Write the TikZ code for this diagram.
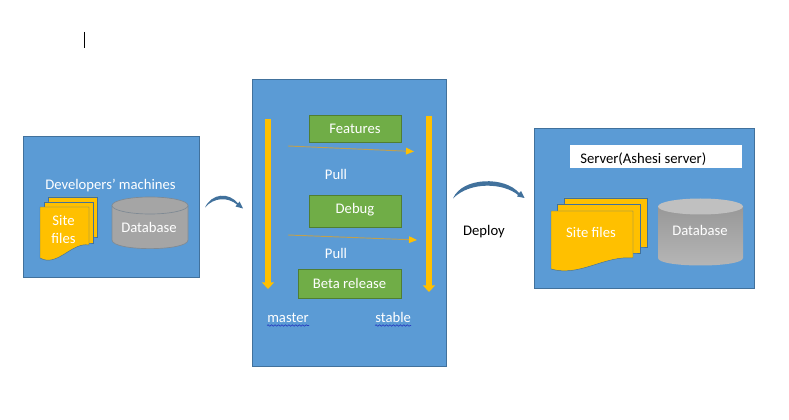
\documentclass[tikz,border=0pt]{standalone}
\usepackage{fontspec}
\setmainfont{Carlito}
\usetikzlibrary{arrows.meta,decorations.pathmorphing}
\definecolor{bluefill}{HTML}{5B9BD5}
\definecolor{blueline}{HTML}{41719C}
\definecolor{greenfill}{HTML}{70AD47}
\definecolor{greenline}{HTML}{507E32}
\definecolor{amber}{HTML}{FFC000}
\definecolor{amberline}{HTML}{BFA050}
\definecolor{grayfill}{HTML}{A5A5A5}
\definecolor{grayline}{HTML}{7F8A94}
\definecolor{squig}{HTML}{2A3FC0}
\newcommand\pxbox[6]{\node[#6,minimum width={(#4-#2)*0.75pt},minimum height={(#5-#3)*0.75pt},inner sep=0pt,outer sep=0pt,anchor=north west] (#1) at (#2,#3) {};}
\newcommand\sheet[5]{% x1 ytop x2 yleftbottom yrightbottom
  \filldraw[sheetstyle] (#1,#2) -- (#3,#2) -- (#3,#5)
    .. controls ({#3-(#3-#1)*0.35},{#5-(#4-#5)*0.25}) and ({#1+(#3-#1)*0.35},{#4+(#4-#5)*0.75}) .. (#1,#4) -- cycle;}
\tikzset{
  panel/.style={draw=blueline,fill=bluefill,line width=0.5pt},
  greenbox/.style={draw=greenline,fill=greenfill,line width=0.5pt},
  whitebox/.style={fill=white},
  sheetstyle/.style={fill=amber,draw=blueline,line width=0.35pt},
  txt/.style={font=\fontsize{11pt}{13pt}\selectfont,text=white,inner sep=0pt},
  txtblack/.style={txt,text=black},
  branch/.style={draw=amber,line width=4.4pt,-{Triangle[length=5pt,width=9pt]}},
  mergearrow/.style={draw=amberline,line width=0.7pt,-{Triangle[length=6pt,width=5pt,color=amber]}},
  flow/.style={fill=blueline},
  squiggle/.style={draw=squig,line width=0.5pt,decorate,decoration={snake,amplitude=0.55pt,segment length=2.6pt}},
}
\begin{document}
\begin{tikzpicture}[x=0.75pt,y=-0.75pt]
\useasboundingbox (0,0) rectangle (789,420);
\fill[white] (0,0) rectangle (789,420);
\coordinate (caretTop) at (84.5,32);
\coordinate (caretBot) at (84.5,48);
\draw[black,line width=0.8pt] (caretTop) -- (caretBot);
% panels
\pxbox{devpanel}{23.5}{136.5}{199.5}{277}{panel}
\pxbox{midpanel}{252.5}{79.5}{446.5}{366}{panel}
\pxbox{srvpanel}{534.5}{128.5}{754.5}{288}{panel}
% left panel
\node[txt] (devlabel) at (110.5,186) {Developers’ machines};
\sheet{48}{197}{97}{237}{237}
\sheet{44}{202}{93}{243}{243}
\sheet{40}{207}{89}{258}{245}
\node[txt,anchor=base] (sitefilesA) at (63.5,226) {Site};
\node[txt,anchor=base] (sitefilesC) at (63.5,244) {files};
\filldraw[fill=grayfill,draw=grayline,line width=0.5pt] (112,205.5) -- (112,240) .. controls (112,251.5) and (188,251.5) .. (188,240) -- (188,205.5);
\filldraw[fill=grayfill,draw=grayline,line width=0.5pt] (150,205.5) ellipse [x radius=38*0.75pt,y radius=8.5*0.75pt];
\node[txt] (dbA) at (149,227.5) {Database};
% arrow between left and middle
\coordinate (a1s) at (205,207.5);
\coordinate (a1e) at (241,207);
\fill[flow] (a1s) .. controls (212,193) and (229,192) .. (238,203.5) -- (239.5,201.5) -- (243,208.5) -- (235.5,206.5) -- (237,204.5) .. controls (228,197) and (214,197) .. (a1s) -- cycle;
% middle panel
\coordinate (ms) at (268,119); \coordinate (me) at (268,289);
\coordinate (ss) at (429,116); \coordinate (se) at (429,292);
\draw[branch] (ms) -- (me);
\draw[branch] (ss) -- (se);
\pxbox{features}{309.5}{115.5}{401.5}{142}{greenbox}
\pxbox{debug}{309.5}{195.5}{401.5}{227}{greenbox}
\pxbox{beta}{298.5}{269.5}{401.5}{298}{greenbox}
\node[txt] (featT) at (355,129) {Features};
\node[txt] (debT) at (355,210) {Debug};
\node[txt] (betT) at (349.5,283) {Beta release};
\coordinate (p1s) at (288,146); \coordinate (p1e) at (414,151.5);
\coordinate (p2s) at (288,235); \coordinate (p2e) at (417,240);
\draw[mergearrow] (p1s) -- (p1e);
\draw[mergearrow] (p2s) -- (p2e);
\node[txt] (pullA) at (336,174.5) {Pull};
\node[txt] (pullB) at (336,253.5) {Pull};
\node[txt,anchor=base west] (master) at (267,323) {master};
\node[txt,anchor=base west] (stable) at (375,323) {stable};
\coordinate (sq1a) at (267,325.5); \coordinate (sq1b) at (309,325.5);
\coordinate (sq2a) at (375,325.5); \coordinate (sq2b) at (411,325.5);
\draw[squiggle] (sq1a) -- (sq1b);
\draw[squiggle] (sq2a) -- (sq2b);
% deploy arrow
\coordinate (a2s) at (453,198.5);
\coordinate (a2e) at (523,197);
\fill[flow] (a2s) .. controls (462,177) and (505,176) .. (519,193) -- (521,191) -- (524.5,198) -- (517,196.5) -- (518,195) .. controls (504,183) and (470,181) .. (a2s) -- cycle;
\node[txtblack] (deploy) at (484,232) {Deploy};
% right panel
\pxbox{srvlabelbox}{570}{145}{742}{168}{whitebox}
\begin{scope}
\clip (570,145) rectangle (742,164.5);
\node[txtblack,anchor=base west] (srvlabel) at (580,163.5) {Server(Ashesi server)};
\end{scope}
\sheet{564}{198}{647}{247}{247}
\sheet{557}{204}{640}{253}{253}
\sheet{551}{211}{633}{269}{258}
\node[txt] (sitefilesB) at (591,232) {Site files};
\shade[top color=grayfill!92!black,bottom color=grayfill!80!white] (658,206.5) -- (658,258) .. controls (658,268) and (743,268) .. (743,258) -- (743,206.5) -- cycle;
\fill[grayfill!70!white] (700.5,206.5) ellipse [x radius=42.5*0.75pt,y radius=8*0.75pt];
\node[txt] (dbB) at (700,230) {Database};
\end{tikzpicture}
\end{document}
